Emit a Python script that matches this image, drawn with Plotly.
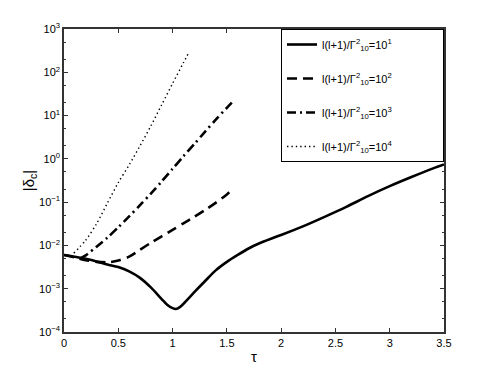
import plotly.graph_objects as go

# tau grid and |delta_c| for each l(l+1)/Gamma^2 value
tau_1 = [0, 0.1, 0.2, 0.3, 0.4, 0.5, 0.6, 0.7, 0.8, 0.9, 0.95, 1.0, 1.03, 1.07,
         1.1, 1.2, 1.3, 1.4, 1.5, 1.6, 1.7, 1.8, 1.9, 2.0, 2.2, 2.4, 2.6, 2.8,
         3.0, 3.2, 3.4, 3.5]
delta_1 = [6.03e-3, 5.50e-3, 4.90e-3, 4.27e-3, 3.63e-3, 3.16e-3, 2.51e-3,
           1.78e-3, 1.07e-3, 5.75e-4, 4.27e-4, 3.55e-4, 3.39e-4, 3.80e-4,
           4.47e-4, 8.3e-4, 1.51e-3, 2.69e-3, 4.17e-3, 6.03e-3, 8.5e-3,
           1.12e-2, 1.41e-2, 1.74e-2, 2.75e-2, 4.57e-2, 7.76e-2, 0.138, 0.234,
           0.380, 0.603, 0.741]

tau_2 = [0, 0.1, 0.2, 0.3, 0.4, 0.5, 0.6, 0.7, 0.8, 0.9, 1.0, 1.1, 1.2, 1.3,
         1.4, 1.5, 1.56]
delta_2 = [6.03e-3, 5.25e-3, 4.57e-3, 4.17e-3, 4.07e-3, 4.47e-3, 5.50e-3,
           7.94e-3, 1.15e-2, 1.62e-2, 2.29e-2, 3.24e-2, 4.57e-2, 6.61e-2,
           9.77e-2, 0.151, 0.210]

tau_3 = [0.15, 0.2, 0.3, 0.4, 0.5, 0.6, 0.7, 0.8, 0.9, 1.0, 1.1, 1.2, 1.3,
         1.4, 1.5, 1.55]
delta_3 = [5.0e-3, 5.89e-3, 9.33e-3, 1.51e-2, 2.63e-2, 4.68e-2, 8.51e-2,
           0.158, 0.302, 0.589, 1.15, 2.19, 4.27, 8.13, 15.1, 20.4]

tau_4 = [0.09, 0.2, 0.3, 0.4, 0.5, 0.6, 0.7, 0.8, 0.9, 1.0, 1.1, 1.15]
delta_4 = [6.6e-3, 1.32e-2, 3.16e-2, 9.55e-2, 0.282, 0.724, 2.0, 5.75,
           17.8, 55.0, 166, 288]

pad = "\u00a0" * 15
labels = ["l(l+1)/Γ<sup>2</sup><sub>10</sub>=10<sup>%d</sup>%s" % (k, pad) for k in (1, 2, 3, 4)]

x_ticks = [0, 0.5, 1, 1.5, 2, 2.5, 3, 3.5]
x_ticktext = ["0", "0.5", "1", "1.5", "2", "2.5", "3", "3.5"]
y_ticks = [1e-4, 1e-3, 1e-2, 1e-1, 1e0, 1e1, 1e2, 1e3]
y_ticktext = ["10<sup>−4</sup>", "10<sup>−3</sup>", "10<sup>−2</sup>", "10<sup>−1</sup>",
              "10<sup>0</sup>", "10<sup>1</sup>", "10<sup>2</sup>", "10<sup>3</sup>"]

series = [
    (tau_1, delta_1, dict(color="black", width=2.6, shape="spline", smoothing=0.8)),
    (tau_2, delta_2, dict(color="black", width=2.6, dash="10px,6px", shape="spline", smoothing=0.8)),
    (tau_3, delta_3, dict(color="black", width=2.6, dash="9px,4px,2px,4px", shape="spline", smoothing=0.8)),
    (tau_4, delta_4, dict(color="black", width=1.4, dash="1.4px,3px", shape="spline", smoothing=0.8)),
]

fig = go.Figure()
for i, (t, d, ln) in enumerate(series):
    fig.add_trace(go.Scatter(x=t, y=d, mode="lines", line=ln, name=labels[i],
                             legendgroup=str(i)))

black = "#000000"
base_font = dict(family="Liberation Sans, Arial, sans-serif", size=11, color=black)

fig.update_layout(
    width=491, height=375,
    paper_bgcolor="white", plot_bgcolor="white",
    margin=dict(l=64, r=47, t=29, b=43),
    font=base_font,
    showlegend=True,
    legend=dict(x=1, y=1, xanchor="right", yanchor="top",
                bordercolor=black, borderwidth=1, bgcolor="white",
                tracegroupgap=15, font=dict(size=11, color=black)),
    xaxis=dict(range=[0, 3.5], tickvals=x_ticks, ticktext=x_ticktext,
               ticks="inside", ticklen=4, tickcolor="#333", mirror="allticks",
               showline=True, linecolor="#333", linewidth=1.5, showgrid=False,
               zeroline=False, automargin=False, tickfont=dict(color=black, size=11),
               title=dict(text="τ", font=dict(size=15, color=black), standoff=4)),
    yaxis=dict(type="log", range=[-4, 3], tickvals=y_ticks, ticktext=y_ticktext,
               ticks="inside", ticklen=4, tickcolor="#333", mirror="allticks",
               showline=True, linecolor="#333", linewidth=1.5, showgrid=False,
               zeroline=False, automargin=False, tickfont=dict(color=black, size=11),
               minor=dict(ticks="inside", ticklen=2, tickcolor="#333", showgrid=False),
               title=dict(text="|δ<sub>c</sub>|", font=dict(size=15, color=black), standoff=1)),
)

fig.write_html("out.html", config={"displayModeBar": False},
               post_script="document.body.style.margin='0px';")
